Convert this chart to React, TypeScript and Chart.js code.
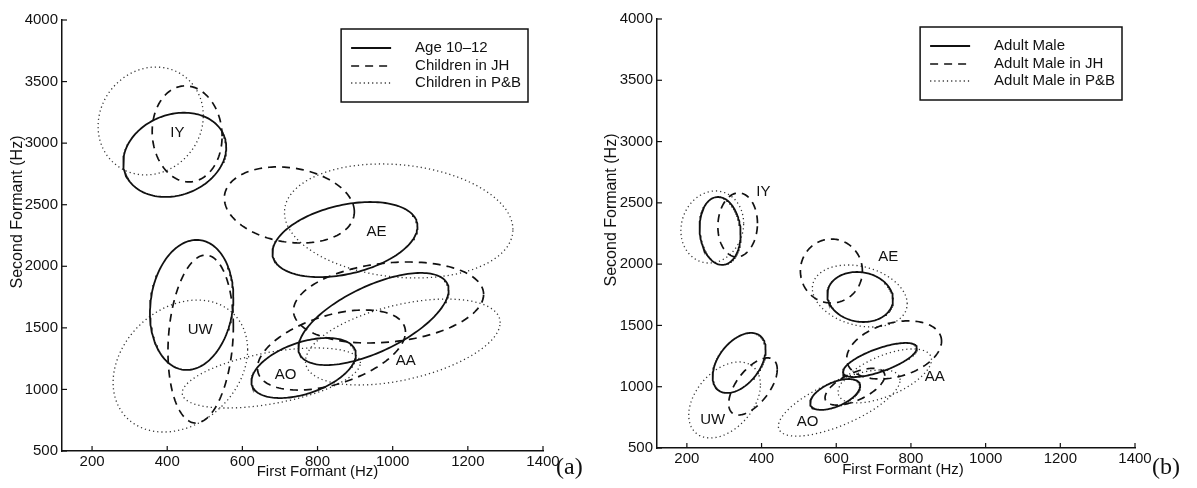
import { useEffect, useRef } from 'react';
import { Chart, registerables } from 'chart.js';

Chart.register(...registerables);

// ---------- data ----------
const vowels = ['IY', 'AE', 'UW', 'AO', 'AA'];
const xTicks = [200, 400, 600, 800, 1000, 1200, 1400];
const yTicks = [500, 1000, 1500, 2000, 2500, 3000, 3500, 4000];

// each row (order of `vowels`): [F1 centre, F2 centre, F1 half-extent, F2 half-extent, tilt]
const age1012 = [
  [420, 2905, 137, 342, 0.18],
  [873, 2217, 193, 305, 0.35],
  [465, 1686, 111, 528, 0.12],
  [763, 1174, 139, 244, 0.45],
  [949, 1572, 200, 374, 0.63],
];
const childrenJH = [
  [453, 3075, 93, 390, -0.05],
  [725, 2498, 173, 309, -0.18],
  [489, 1409, 87, 682, 0.15],
  [837, 1320, 197, 325, 0.45],
  [989, 1706, 253, 329, 0.2],
];
const childrenPB = [
  [356, 3180, 140, 438, 0.1],
  [1016, 2368, 304, 463, -0.15],
  [435, 1190, 179, 536, 0.25],
  [677, 1093, 237, 244, 0.5],
  [1027, 1385, 259, 349, 0.45],
];
const adultMale = [
  [289, 2271, 55, 277, -0.1],
  [664, 1732, 88, 204, -0.1],
  [340, 1194, 71, 245, 0.45],
  [597, 937, 67, 126, 0.55],
  [717, 1218, 99, 139, 0.7],
];
const adultMaleJH = [
  [336, 2320, 53, 261, 0.05],
  [587, 1944, 83, 261, 0],
  [377, 1002, 65, 233, 0.6],
  [650, 1000, 80, 150, 0.6],
  [755, 1300, 127, 237, 0.3],
];
const adultMalePB = [
  [268, 2303, 84, 294, 0.1],
  [663, 1740, 127, 253, -0.25],
  [301, 892, 96, 310, 0.4],
  [608, 867, 163, 270, 0.7],
  [730, 1088, 125, 220, 0.6],
];

// vowel label anchors (F1, F2)
const labelF1A = [427, 957, 488, 715, 1035];
const labelF2A = [3082, 2278, 1483, 1117, 1231];
const labelF1B = [405, 739, 269, 523, 864];
const labelF2B = [2589, 2058, 728, 712, 1079];

const legendA = ['Age 10\u201312', 'Children in JH', 'Children in P&B'];
const legendB = ['Adult Male', 'Adult Male in JH', 'Adult Male in P&B'];

// ---------- styling ----------
const INK = '#111';
const SANS = '"Liberation Sans", Arial, Helvetica, sans-serif';
const STYLES: Record<string, any> = {
  solid: { borderDash: [], borderWidth: 1.8, borderColor: '#111' },
  dashed: { borderDash: [8, 6], borderWidth: 1.7, borderColor: '#111' },
  dotted: { borderDash: [1.2, 3], borderWidth: 1.3, borderColor: '#333' },
};
const STYLE_ORDER = ['solid', 'dashed', 'dotted'];

function outline(row: number[]) {
  const [cx, cy, rx, ry, rho] = row;
  const s = Math.sqrt(1 - rho * rho);
  const pts: { x: number; y: number }[] = [];
  const N = 160;
  for (let i = 0; i <= N; i++) {
    const t = (2 * Math.PI * i) / N;
    pts.push({ x: cx + rx * Math.cos(t), y: cy + ry * (rho * Math.cos(t) + s * Math.sin(t)) });
  }
  return pts;
}

interface PanelDef {
  series: number[][][];
  legend: string[];
  labelF1: number[];
  labelF2: number[];
  tag: string;
  padRight: number;
  padTop: number;
  yWidth: number;
  xHeight: number;
  xTitleShift: number;
  xTitleY: number;
  yTitleX: number;
  yTitleY: number;
  tagX: number;
  legendInset: number;
  legendTop: number;
}

const panelA: PanelDef = {
  series: [age1012, childrenJH, childrenPB],
  legend: legendA,
  labelF1: labelF1A,
  labelF2: labelF2A,
  tag: '(a)',
  padRight: 55,
  padTop: 20,
  yWidth: 62,
  xHeight: 37,
  xTitleShift: 15,
  xTitleY: 472,
  yTitleX: 18,
  yTitleY: 212,
  tagX: 556,
  legendInset: 15,
  legendTop: 9,
};

const panelB: PanelDef = {
  series: [adultMale, adultMaleJH, adultMalePB],
  legend: legendB,
  labelF1: labelF1B,
  labelF2: labelF2B,
  tag: '(b)',
  padRight: 62,
  padTop: 19,
  yWidth: 59,
  xHeight: 40,
  xTitleShift: 7,
  xTitleY: 470,
  yTitleX: 14,
  yTitleY: 210,
  tagX: 554,
  legendInset: 13,
  legendTop: 8,
};

function buildConfig(p: PanelDef): any {
  const datasets: any[] = [];
  p.series.forEach((rows, si) => {
    rows.forEach((row, vi) => {
      datasets.push({
        label: p.legend[si] + ' ' + vowels[vi],
        data: outline(row),
        showLine: true,
        pointRadius: 0,
        fill: false,
        tension: 0,
        ...STYLES[STYLE_ORDER[si]],
      });
    });
  });

  const overlay = {
    id: 'overlay',
    afterDraw(chart: any) {
      const { ctx, chartArea: ca } = chart;
      const xs = chart.scales.x;
      const ys = chart.scales.y;
      ctx.save();
      // inward tick marks
      ctx.strokeStyle = INK;
      ctx.lineWidth = 1.2;
      ctx.setLineDash([]);
      xs.ticks.forEach((t: any) => {
        const px = xs.getPixelForValue(t.value);
        ctx.beginPath();
        ctx.moveTo(px, ca.bottom);
        ctx.lineTo(px, ca.bottom - 5);
        ctx.stroke();
      });
      ys.ticks.forEach((t: any) => {
        const py = ys.getPixelForValue(t.value);
        ctx.beginPath();
        ctx.moveTo(ca.left, py);
        ctx.lineTo(ca.left + 5, py);
        ctx.stroke();
      });

      // vowel labels
      ctx.fillStyle = INK;
      ctx.font = '15px ' + SANS;
      ctx.textAlign = 'center';
      ctx.textBaseline = 'middle';
      vowels.forEach((v, i) => {
        ctx.fillText(v, xs.getPixelForValue(p.labelF1[i]), ys.getPixelForValue(p.labelF2[i]));
      });

      // legend box
      ctx.font = '15px ' + SANS;
      const maxW = Math.max(...p.legend.map((s) => ctx.measureText(s).width));
      const boxW = 74 + maxW + 7;
      const boxH = 73;
      const bx = ca.right - p.legendInset - boxW;
      const by = ca.top + p.legendTop;
      ctx.fillStyle = '#fff';
      ctx.fillRect(bx, by, boxW, boxH);
      ctx.strokeStyle = INK;
      ctx.lineWidth = 1.5;
      ctx.strokeRect(bx, by, boxW, boxH);
      const rowY = [19, 37, 54];
      p.legend.forEach((txt, i) => {
        const st = STYLES[STYLE_ORDER[i]];
        ctx.save();
        ctx.strokeStyle = st.borderColor;
        ctx.lineWidth = st.borderWidth;
        ctx.setLineDash(st.borderDash);
        ctx.beginPath();
        ctx.moveTo(bx + 10, by + rowY[i]);
        ctx.lineTo(bx + 50, by + rowY[i]);
        ctx.stroke();
        ctx.restore();
        ctx.fillStyle = INK;
        ctx.textAlign = 'left';
        ctx.textBaseline = 'middle';
        ctx.fillText(txt, bx + 74, by + rowY[i]);
      });

      // axis titles
      ctx.fillStyle = INK;
      ctx.textAlign = 'center';
      ctx.textBaseline = 'middle';
      ctx.font = '15px ' + SANS;
      ctx.fillText('First Formant (Hz)', (ca.left + ca.right) / 2 + p.xTitleShift, p.xTitleY);
      ctx.save();
      ctx.translate(p.yTitleX, p.yTitleY);
      ctx.rotate(-Math.PI / 2);
      ctx.font = '16px ' + SANS;
      ctx.fillText('Second Formant (Hz)', 0, 0);
      ctx.restore();

      // panel tag
      ctx.font = '24px "Liberation Serif", "DejaVu Serif", serif';
      ctx.textAlign = 'left';
      ctx.textBaseline = 'middle';
      ctx.fillText(p.tag, p.tagX, 468);
      ctx.restore();
    },
  };

  return {
    type: 'scatter',
    data: { datasets },
    options: {
      animation: false,
      responsive: false,
      maintainAspectRatio: false,
      events: [],
      layout: { padding: { left: 0, right: p.padRight, top: p.padTop, bottom: 0 } },
      plugins: { legend: { display: false }, tooltip: { enabled: false } },
      scales: {
        x: {
          type: 'linear',
          min: 120,
          max: 1400,
          afterBuildTicks: (s: any) => {
            s.ticks = xTicks.map((v) => ({ value: v }));
          },
          afterFit: (s: any) => {
            s.height = p.xHeight;
          },
          ticks: {
            autoSkip: false,
            maxRotation: 0,
            padding: 2,
            color: INK,
            font: { family: SANS, size: 15 },
            callback: (v: any) => String(v),
          },
          grid: { display: true, drawOnChartArea: false, drawTicks: false },
          border: { display: true, color: INK, width: 1.5 },
        },
        y: {
          type: 'linear',
          min: 500,
          max: 4000,
          afterBuildTicks: (s: any) => {
            s.ticks = yTicks.map((v) => ({ value: v }));
          },
          afterFit: (s: any) => {
            s.width = p.yWidth;
          },
          ticks: {
            autoSkip: false,
            padding: 4,
            color: INK,
            font: { family: SANS, size: 15 },
            callback: (v: any) => String(v),
          },
          grid: { display: true, drawOnChartArea: false, drawTicks: false },
          border: { display: true, color: INK, width: 1.5 },
        },
      },
    },
    plugins: [overlay],
  };
}

function PanelChart({ panel, left, width }: { panel: PanelDef; left: number; width: number }) {
  const ref = useRef<HTMLCanvasElement>(null);
  useEffect(() => {
    const chart = new Chart(ref.current as HTMLCanvasElement, buildConfig(panel));
    return () => chart.destroy();
  }, [panel]);
  return (
    <canvas
      ref={ref}
      width={width}
      height={488}
      style={{ position: 'absolute', left, top: 0, width, height: 488 }}
    />
  );
}

export default function App() {
  return (
    <div style={{ position: 'fixed', left: 0, top: 0, width: 1197, height: 488, background: '#fff' }}>
      <PanelChart panel={panelA} left={0} width={598} />
      <PanelChart panel={panelB} left={598} width={599} />
    </div>
  );
}
